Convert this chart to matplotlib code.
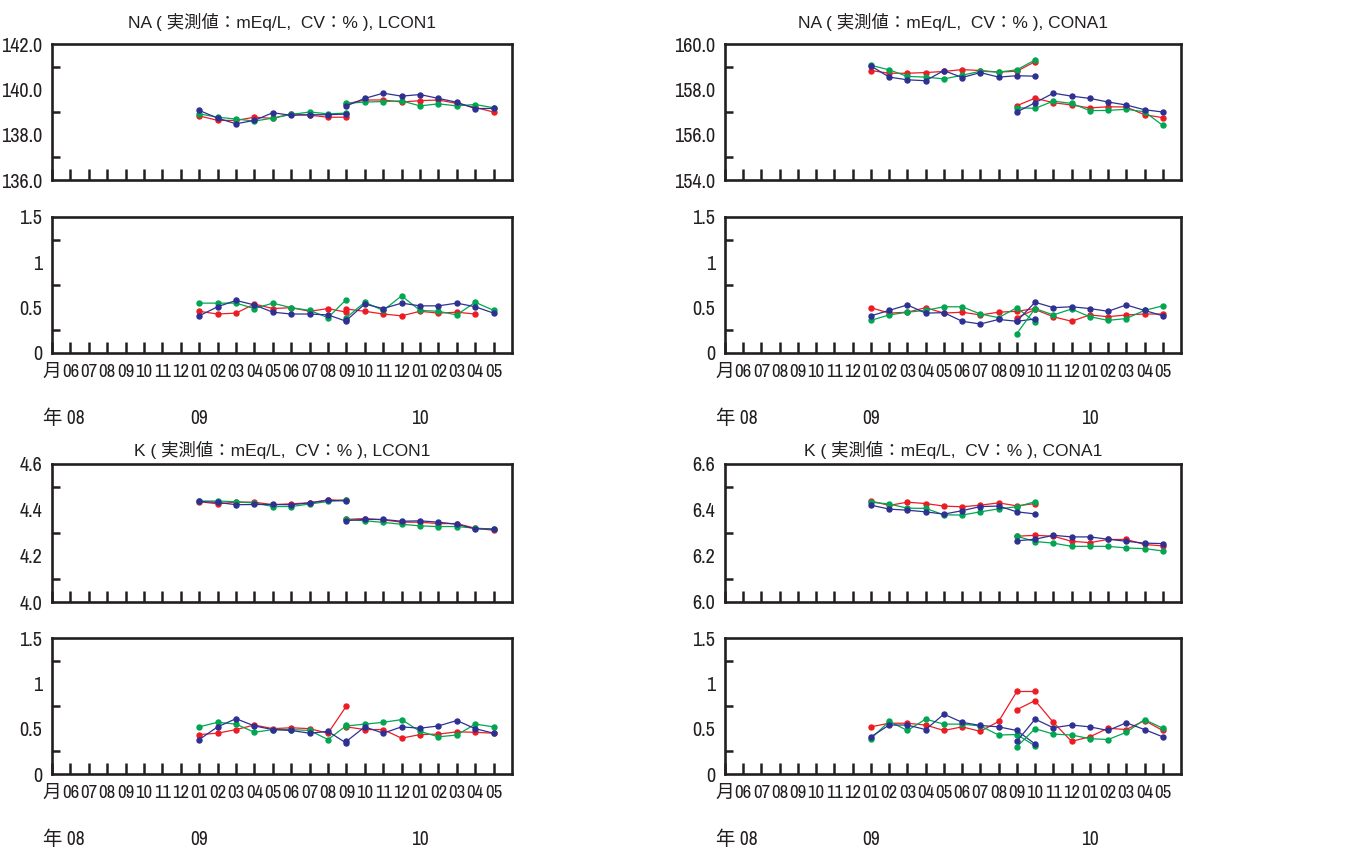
import matplotlib
matplotlib.use("Agg")
import matplotlib.pyplot as plt
import matplotlib.transforms as mtransforms

# narrow face for the numbers, CJK face for 月 / 年
plt.rcParams['font.family'] = ['Archivo Narrow', 'Noto Sans CJK JP', 'DejaVu Sans']

# x axis: position 0 is the "月" column, then 2008-06 .. 2010-05
month_labels = ['月', '06', '07', '08', '09', '10', '11', '12',
                '01', '02', '03', '04', '05', '06', '07', '08', '09', '10', '11', '12',
                '01', '02', '03', '04', '05']
year_labels = ['年 08', '09', '10']
year_pos = [0.63, 8, 20]

lot1_start = 8    # 2009-01
lot2_start = 16   # 2009-09

# ---- NA, LCON1 ----
na_lcon1_red_1 = [138.83, 138.63, 138.63, 138.77, 138.72, 138.92, 138.86, 138.77, 138.77]
na_lcon1_green_1 = [138.92, 138.77, 138.69, 138.60, 138.73, 138.89, 139.00, 138.92, 138.95]
na_lcon1_blue_1 = [139.07, 138.73, 138.48, 138.63, 138.97, 138.85, 138.88, 138.88, 138.91]
na_lcon1_red_2 = [139.36, 139.53, 139.53, 139.44, 139.50, 139.53, 139.38, 139.20, 139.00]
na_lcon1_green_2 = [139.38, 139.44, 139.46, 139.49, 139.27, 139.36, 139.27, 139.33, 139.19]
na_lcon1_blue_2 = [139.27, 139.60, 139.83, 139.70, 139.77, 139.60, 139.43, 139.15, 139.16]

na_lcon1_cv_red_1 = [0.46, 0.43, 0.44, 0.54, 0.49, 0.50, 0.46, 0.49, 0.45]
na_lcon1_cv_green_1 = [0.55, 0.55, 0.55, 0.49, 0.55, 0.50, 0.47, 0.39, 0.59]
na_lcon1_cv_blue_1 = [0.41, 0.51, 0.58, 0.53, 0.45, 0.43, 0.43, 0.42, 0.35]
na_lcon1_cv_red_2 = [0.485, 0.46, 0.43, 0.41, 0.46, 0.44, 0.45, 0.43]
na_lcon1_cv_green_2 = [0.39, 0.56, 0.47, 0.63, 0.47, 0.46, 0.42, 0.56, 0.47]
na_lcon1_cv_blue_2 = [0.36, 0.54, 0.49, 0.55, 0.52, 0.52, 0.55, 0.51, 0.44]

# ---- NA, CONA1 ----
na_cona1_red_1 = [158.83, 158.71, 158.71, 158.74, 158.79, 158.87, 158.83, 158.76, 158.80, 159.22]
na_cona1_green_1 = [159.06, 158.86, 158.57, 158.54, 158.46, 158.62, 158.80, 158.76, 158.86, 159.30]
na_cona1_blue_1 = [159.03, 158.54, 158.42, 158.38, 158.83, 158.52, 158.74, 158.54, 158.60, 158.58]
na_cona1_red_2 = [157.28, 157.61, 157.41, 157.31, 157.18, 157.23, 157.22, 156.88, 156.75]
na_cona1_green_2 = [157.19, 157.16, 157.48, 157.38, 157.06, 157.07, 157.12, 157.01, 156.41]
na_cona1_blue_2 = [157.00, 157.41, 157.83, 157.70, 157.60, 157.44, 157.31, 157.10, 157.00]

na_cona1_cv_red_1 = [0.50, 0.44, 0.45, 0.50, 0.44, 0.45, 0.42, 0.45, 0.46, 0.49]
na_cona1_cv_green_1 = [0.36, 0.42, 0.45, 0.47, 0.51, 0.51, 0.43, 0.39, 0.50, 0.34]
na_cona1_cv_blue_1 = [0.41, 0.47, 0.53, 0.44, 0.445, 0.35, 0.32, 0.37, 0.35, 0.375]
na_cona1_cv_red_2 = [0.39, 0.48, 0.40, 0.35, 0.42, 0.40, 0.42, 0.43, 0.43]
na_cona1_cv_green_2 = [0.215, 0.49, 0.42, 0.485, 0.40, 0.36, 0.38, 0.47, 0.52]
na_cona1_cv_blue_2 = [0.35, 0.56, 0.50, 0.51, 0.49, 0.46, 0.53, 0.47, 0.41]

# ---- K, LCON1 ----
k_lcon1_red_1 = [4.436, 4.427, 4.434, 4.434, 4.423, 4.427, 4.431, 4.444, 4.442]
k_lcon1_green_1 = [4.439, 4.439, 4.436, 4.431, 4.415, 4.415, 4.426, 4.437, 4.444]
k_lcon1_blue_1 = [4.437, 4.433, 4.423, 4.424, 4.424, 4.423, 4.431, 4.442, 4.439]
k_lcon1_red_2 = [4.359, 4.363, 4.357, 4.347, 4.347, 4.341, 4.341, 4.321, 4.312]
k_lcon1_green_2 = [4.359, 4.353, 4.346, 4.338, 4.331, 4.328, 4.328, 4.321, 4.317]
k_lcon1_blue_2 = [4.354, 4.359, 4.359, 4.351, 4.353, 4.347, 4.338, 4.318, 4.317]

k_lcon1_cv_red_1 = [0.435, 0.45, 0.49, 0.54, 0.50, 0.51, 0.50, 0.45, 0.75]
k_lcon1_cv_green_1 = [0.52, 0.57, 0.55, 0.46, 0.49, 0.49, 0.48, 0.38, 0.535]
k_lcon1_cv_blue_1 = [0.38, 0.52, 0.61, 0.53, 0.49, 0.48, 0.45, 0.47, 0.34]
k_lcon1_cv_red_2 = [0.52, 0.49, 0.49, 0.395, 0.435, 0.44, 0.465, 0.46, 0.45]
k_lcon1_cv_green_2 = [0.53, 0.55, 0.57, 0.60, 0.47, 0.41, 0.43, 0.55, 0.52]
k_lcon1_cv_blue_2 = [0.36, 0.52, 0.45, 0.52, 0.505, 0.53, 0.59, 0.50, 0.45]

# ---- K, CONA1 ----
k_cona1_red_1 = [6.439, 6.420, 6.434, 6.428, 6.417, 6.414, 6.421, 6.431, 6.418, 6.428]
k_cona1_green_1 = [6.434, 6.426, 6.408, 6.407, 6.379, 6.378, 6.392, 6.405, 6.414, 6.436]
k_cona1_blue_1 = [6.421, 6.404, 6.399, 6.392, 6.382, 6.397, 6.415, 6.417, 6.392, 6.383]
k_cona1_red_2 = [6.286, 6.290, 6.286, 6.264, 6.258, 6.272, 6.272, 6.250, 6.244]
k_cona1_green_2 = [6.286, 6.263, 6.256, 6.242, 6.242, 6.242, 6.235, 6.232, 6.222]
k_cona1_blue_2 = [6.266, 6.273, 6.290, 6.283, 6.283, 6.273, 6.264, 6.256, 6.254]

k_cona1_cv_red_1 = [0.52, 0.56, 0.56, 0.54, 0.48, 0.52, 0.47, 0.58, 0.91, 0.91]
k_cona1_cv_green_1 = [0.39, 0.58, 0.48, 0.605, 0.55, 0.55, 0.53, 0.43, 0.435, 0.31]
k_cona1_cv_blue_1 = [0.41, 0.54, 0.54, 0.49, 0.66, 0.57, 0.535, 0.52, 0.48, 0.33]
k_cona1_cv_red_2 = [0.71, 0.81, 0.57, 0.36, 0.41, 0.505, 0.49, 0.59, 0.48]
k_cona1_cv_green_2 = [0.30, 0.50, 0.44, 0.43, 0.39, 0.38, 0.46, 0.60, 0.505]
k_cona1_cv_blue_2 = [0.36, 0.605, 0.51, 0.54, 0.52, 0.48, 0.565, 0.49, 0.41]

RED = '#ed1c24'
GREEN = '#00a651'
BLUE = '#2e3192'
INK = '#231f20'

W, H = 1348, 850
fig = plt.figure(figsize=(W / 100, H / 100), dpi=100)


def px_axes(x0, y0, x1, y1):
    return fig.add_axes([x0 / W, 1 - y1 / H, (x1 - x0) / W, (y1 - y0) / H])


def draw_series(ax, lot1, lot2):
    for ys, col in zip(lot1, [RED, GREEN, BLUE]):
        ax.plot(range(lot1_start, lot1_start + len(ys)), ys, color=col, lw=0.9,
                marker='o', ms=3.6, mec=col, mfc=col)
    for ys, col in zip(lot2, [RED, GREEN, BLUE]):
        ax.plot(range(lot2_start, lot2_start + len(ys)), ys, color=col, lw=0.9,
                marker='o', ms=3.6, mec=col, mfc=col)


def style(ax, ymin, ymax, step, fmt, show_months):
    ax.set_xlim(0, 25)
    ax.set_ylim(ymin, ymax)
    for s in ax.spines.values():
        s.set_linewidth(1.9)
        s.set_color(INK)
    ax.set_xticks(range(len(month_labels)))
    ax.tick_params(axis='x', direction='in', length=8, width=1.8, color=INK,
                   labelsize=13.5, pad=8, labelcolor=INK)
    if show_months:
        ax.set_xticklabels(month_labels)
    else:
        ax.set_xticklabels([])
    majors = []
    v = ymin
    while v <= ymax + 1e-9:
        majors.append(round(v, 6))
        v += step
    ax.set_yticks(majors)
    ax.set_yticklabels([fmt(m) for m in majors])
    ax.set_yticks([m + step / 2 for m in majors[:-1]], minor=True)
    ax.tick_params(axis='y', which='major', length=0, labelsize=14.5, pad=7, labelcolor=INK)
    ax.tick_params(axis='y', which='minor', direction='in', length=6, width=1.8, color=INK)
    if show_months:
        trans = mtransforms.blended_transform_factory(ax.transData, ax.transAxes)
        for txt, xp in zip(year_labels, year_pos):
            ax.text(xp, -0.48, txt, transform=trans, ha='center', va='center',
                    fontsize=14, color=INK)


def f1(v):
    return '%.1f' % v


def fcv(v):
    return '%g' % v


title_font = ['Liberation Sans', 'Noto Sans CJK JP', 'DejaVu Sans']
cols = [(52, 512), (725, 1181)]

panels = [
    (0, 'NA', 'LCON1', (136, 142, 2),
     [na_lcon1_red_1, na_lcon1_green_1, na_lcon1_blue_1],
     [na_lcon1_red_2, na_lcon1_green_2, na_lcon1_blue_2],
     [na_lcon1_cv_red_1, na_lcon1_cv_green_1, na_lcon1_cv_blue_1],
     [na_lcon1_cv_red_2, na_lcon1_cv_green_2, na_lcon1_cv_blue_2], 0),
    (1, 'NA', 'CONA1', (154, 160, 2),
     [na_cona1_red_1, na_cona1_green_1, na_cona1_blue_1],
     [na_cona1_red_2, na_cona1_green_2, na_cona1_blue_2],
     [na_cona1_cv_red_1, na_cona1_cv_green_1, na_cona1_cv_blue_1],
     [na_cona1_cv_red_2, na_cona1_cv_green_2, na_cona1_cv_blue_2], 0),
    (0, 'K', 'LCON1', (4.0, 4.6, 0.2),
     [k_lcon1_red_1, k_lcon1_green_1, k_lcon1_blue_1],
     [k_lcon1_red_2, k_lcon1_green_2, k_lcon1_blue_2],
     [k_lcon1_cv_red_1, k_lcon1_cv_green_1, k_lcon1_cv_blue_1],
     [k_lcon1_cv_red_2, k_lcon1_cv_green_2, k_lcon1_cv_blue_2], 1),
    (1, 'K', 'CONA1', (6.0, 6.6, 0.2),
     [k_cona1_red_1, k_cona1_green_1, k_cona1_blue_1],
     [k_cona1_red_2, k_cona1_green_2, k_cona1_blue_2],
     [k_cona1_cv_red_1, k_cona1_cv_green_1, k_cona1_cv_blue_1],
     [k_cona1_cv_red_2, k_cona1_cv_green_2, k_cona1_cv_blue_2], 1),
]

# pixel rows: (value top, value bottom, cv top, cv bottom, title y)
rows = [(44, 180, 217, 353, 22), (464, 602, 638, 774, 450)]

for col, analyte, ctrl, (lo, hi, st), v1, v2, c1, c2, r in panels:
    x0, x1 = cols[col]
    vt, vb, ct, cb, ty = rows[r]
    ax_v = px_axes(x0, vt, x1, vb)
    draw_series(ax_v, v1, v2)
    style(ax_v, lo, hi, st, f1, False)
    ax_c = px_axes(x0, ct, x1, cb)
    draw_series(ax_c, c1, c2)
    style(ax_c, 0, 1.5, 0.5, fcv, True)
    fig.text((x0 + x1) / 2 / W, 1 - ty / H,
             analyte + ' ( 実測値：mEq/L,  CV：% ), ' + ctrl,
             ha='center', va='center', fontsize=12.5, family=title_font, color=INK)

fig.savefig('out.png', dpi=100)
